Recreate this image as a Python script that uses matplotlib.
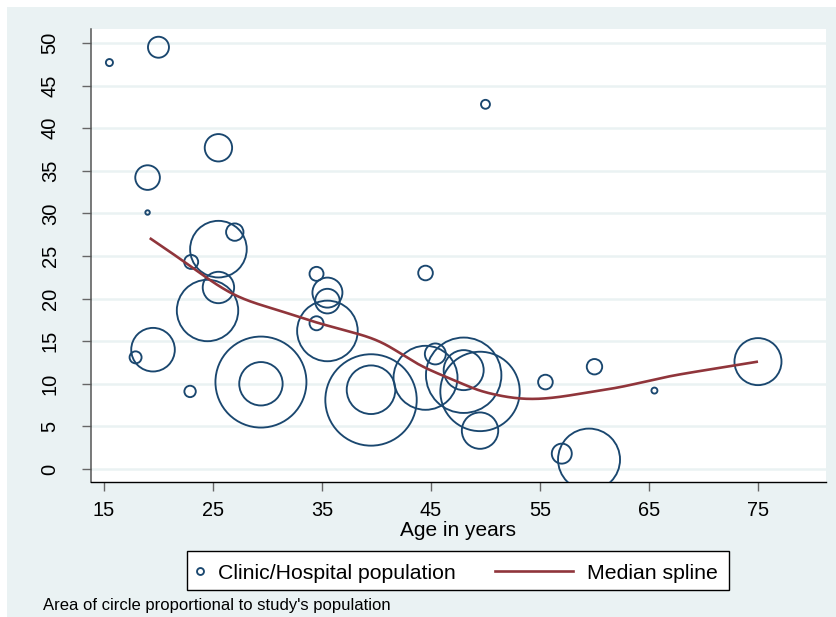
import numpy as np
import matplotlib
matplotlib.use("Agg")
import matplotlib.pyplot as plt
from matplotlib.patches import Rectangle
from matplotlib.lines import Line2D

# Study-level data: mean age, outcome rate and study population (relative units)
age = [15.5, 20.0, 25.5, 19.0, 19.0, 25.5, 27.0, 23.0, 25.5, 24.5,
       19.5, 17.9, 22.9, 29.4, 29.4, 34.5, 35.5, 35.5, 35.5, 34.5,
       39.5, 39.5, 44.5, 44.5, 45.4, 48.0, 48.0, 49.5, 49.5, 55.5,
       60.0, 57.0, 59.5, 65.5, 75.0, 50.0]
rate = [47.7, 49.5, 37.7, 34.2, 30.1, 25.8, 27.8, 24.3, 21.3, 18.6,
        14.0, 13.1, 9.1, 10.2, 10.0, 22.9, 20.7, 19.7, 16.2, 17.1,
        8.1, 9.3, 23.0, 10.7, 13.5, 11.0, 11.6, 9.1, 4.5, 10.2,
        12.0, 1.8, 1.1, 9.2, 12.6, 42.8]
population = [25, 220, 375, 303, 10, 1602, 151, 98, 493, 1885,
              950, 72, 65, 4140, 942, 98, 450, 303, 1836, 98,
              4177, 1181, 107, 2048, 220, 2843, 800, 3152, 662, 107,
              119, 200, 1922, 18, 1105, 40]

# Median spline knots
spline_age = [19.2, 22.6, 26.9, 30.8, 34.5, 37.6, 40.6, 43.7, 47.05,
              49.5, 51.0, 53.5, 56.2, 59.3, 62.3, 66.6, 69.7, 75.0]
spline_median = [27.1, 24.1, 20.5, 18.7, 17.2, 16.1, 14.75, 12.4, 10.45,
                 9.2, 8.7, 8.25, 8.37, 8.96, 9.6, 10.8, 11.5, 12.6]

x_ticks = [15, 25, 35, 45, 55, 65, 75]
y_ticks = [0, 5, 10, 15, 20, 25, 30, 35, 40, 45, 50]

NAVY = "#1A476F"
MAROON = "#90353B"
BG = "#EAF2F3"
GRID = "#EAF2F3"

plt.rcParams["font.family"] = ["Liberation Sans", "DejaVu Sans"]

W, H = 837, 617


def fx(px):
    return px / W


def fy(py):
    return 1 - py / H


def natural_cubic(xs, ys, xq):
    xs = np.asarray(xs, float)
    ys = np.asarray(ys, float)
    n = len(xs)
    h = np.diff(xs)
    A = np.zeros((n, n))
    b = np.zeros(n)
    A[0, 0] = A[-1, -1] = 1.0
    for i in range(1, n - 1):
        A[i, i - 1] = h[i - 1]
        A[i, i] = 2 * (h[i - 1] + h[i])
        A[i, i + 1] = h[i]
        b[i] = 3 * ((ys[i + 1] - ys[i]) / h[i] - (ys[i] - ys[i - 1]) / h[i - 1])
    c = np.linalg.solve(A, b)
    bb = (ys[1:] - ys[:-1]) / h - h * (2 * c[:-1] + c[1:]) / 3
    d = (c[1:] - c[:-1]) / (3 * h)
    idx = np.clip(np.searchsorted(xs, xq) - 1, 0, n - 2)
    t = xq - xs[idx]
    return ys[idx] + bb[idx] * t + c[idx] * t ** 2 + d[idx] * t ** 3


fig = plt.figure(figsize=(W / 100, H / 100), dpi=100, facecolor="white")
fig.add_artist(Rectangle((fx(7), 0), 1 - fx(7), fy(7), transform=fig.transFigure,
                         facecolor=BG, edgecolor="none", zorder=-10))

ax = fig.add_axes([fx(91), fy(482), fx(826) - fx(91), fy(29) - fy(482)])
ax.set_facecolor("white")
ax.set_xlim(13.81, 81.24)
ax.set_ylim(-1.53, 51.64)

SIZE_SCALE = 1.0368
ax.scatter(age, rate, s=np.asarray(population) * SIZE_SCALE,
           facecolors="none", edgecolors=NAVY, linewidths=1.35, zorder=3)

xs = np.linspace(spline_age[0], spline_age[-1], 400)
ax.plot(xs, natural_cubic(spline_age, spline_median, xs),
        color=MAROON, lw=1.9, zorder=4, solid_capstyle="butt")

ax.set_xticks(x_ticks)
ax.set_yticks(y_ticks)
ax.yaxis.grid(True, color=GRID, linewidth=1.8)
ax.set_axisbelow(True)

for side in ("top", "right"):
    ax.spines[side].set_visible(False)
ax.spines["left"].set_color("#555555")
ax.spines["bottom"].set_color("#000000")
ax.spines["left"].set_linewidth(1.1)
ax.spines["bottom"].set_linewidth(1.0)

ax.tick_params(axis="x", direction="out", length=6.5, width=1.0, color="#666666",
               pad=7.5, labelsize=14.3)
ax.tick_params(axis="y", direction="out", length=6.5, width=1.0, color="#666666",
               pad=16, labelsize=14.5, labelrotation=90)
for lab in ax.get_yticklabels():
    lab.set_va("center")

fig.text(fx(458.5), fy(535.5), "Age in years", ha="center", va="baseline", fontsize=15)

# Legend
fig.add_artist(Rectangle((fx(187.5), fy(589.5)), fx(729.5) - fx(187.5), fy(551) - fy(589.5),
                         transform=fig.transFigure, facecolor="white",
                         edgecolor="black", linewidth=1.0, zorder=5))
fig.add_artist(Line2D([fx(200.3)], [fy(570.7)], transform=fig.transFigure,
                      marker="o", markersize=5.0, markerfacecolor="none",
                      markeredgecolor=NAVY, markeredgewidth=1.35, zorder=6))
fig.text(fx(218), fy(579.3), "Clinic/Hospital population", ha="left",
         va="baseline", fontsize=15.3, zorder=6)
fig.add_artist(Line2D([fx(495), fx(573)], [fy(570.7), fy(570.7)],
                      transform=fig.transFigure, color=MAROON, lw=1.9, zorder=6))
fig.text(fx(587), fy(579.3), "Median spline", ha="left", va="baseline",
         fontsize=15.3, zorder=6)

fig.text(fx(43), fy(610), "Area of circle proportional to study's population",
         ha="left", va="baseline", fontsize=12)

fig.savefig("out.png", dpi=100, facecolor="white")
